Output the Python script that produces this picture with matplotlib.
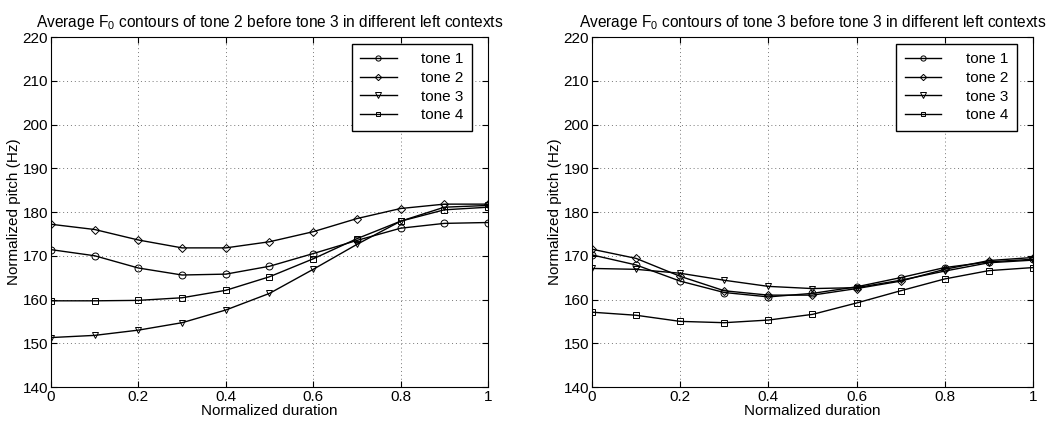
import numpy as np
import matplotlib
matplotlib.use("Agg")
import matplotlib.pyplot as plt

plt.rcParams['font.family'] = ['Liberation Sans', 'DejaVu Sans']
plt.rcParams['mathtext.default'] = 'regular'

# normalized duration
x = [0, 0.1, 0.2, 0.3, 0.4, 0.5, 0.6, 0.7, 0.8, 0.9, 1.0]

# tone 2 before tone 3 (left panel)
left_tone1 = [171.4, 170.0, 167.2, 165.6, 165.8, 167.6, 170.5, 173.5, 176.3, 177.4, 177.6]
left_tone2 = [177.2, 176.0, 173.6, 171.8, 171.8, 173.2, 175.5, 178.5, 180.8, 181.8, 181.8]
left_tone3 = [151.3, 151.8, 153.0, 154.7, 157.6, 161.4, 166.9, 172.6, 177.9, 181.1, 181.5]
left_tone4 = [159.7, 159.7, 159.8, 160.4, 162.1, 165.2, 169.3, 173.9, 177.9, 180.5, 181.1]

# tone 3 before tone 3 (right panel)
right_tone1 = [170.2, 167.9, 164.2, 161.6, 160.6, 161.4, 162.9, 165.0, 167.3, 168.6, 169.2]
right_tone2 = [171.5, 169.4, 165.3, 162.0, 161.0, 161.0, 162.5, 164.2, 166.9, 168.9, 169.6]
right_tone3 = [167.1, 166.9, 166.0, 164.4, 163.0, 162.5, 162.7, 164.4, 166.5, 168.4, 169.0]
right_tone4 = [157.1, 156.4, 155.0, 154.7, 155.3, 156.6, 159.2, 162.0, 164.7, 166.6, 167.3]

labels = ['tone 1', 'tone 2', 'tone 3', 'tone 4']
markers = ['o', 'D', 'v', 's']
msizes = [5, 4.3, 5, 4.3]
titles = ['Average F$_0$ contours of tone 2 before tone 3 in different left contexts',
          'Average F$_0$ contours of tone 3 before tone 3 in different left contexts']

fig = plt.figure(figsize=(10.55, 4.23), dpi=100)
ax1 = fig.add_axes([0.0483, 0.0851, 0.4143, 0.8274])
ax2 = fig.add_axes([0.5611, 0.0851, 0.4180, 0.8274])

panels = [(ax1, [left_tone1, left_tone2, left_tone3, left_tone4]),
          (ax2, [right_tone1, right_tone2, right_tone3, right_tone4])]

for i, (ax, series) in enumerate(panels):
    for y, m, ms, lab in zip(series, markers, msizes, labels):
        ax.plot(x, y, color='black', linewidth=1.0, marker=m, markersize=ms,
                markerfacecolor='none', markeredgewidth=0.7, label=lab)
    ax.set_xlim(0, 1)
    ax.set_ylim(140, 220)
    ax.set_xticks([0, 0.2, 0.4, 0.6, 0.8, 1])
    ax.set_xticklabels(['0', '0.2', '0.4', '0.6', '0.8', '1'])
    ax.set_yticks(np.arange(140, 221, 10))
    ax.grid(True, linestyle=(0, (1, 3)), color='#777777', linewidth=0.7)
    ax.tick_params(direction='in', top=True, right=True, labelsize=11, length=4, pad=2)
    for s in ax.spines.values():
        s.set_linewidth(0.8)
    ax.set_xlabel('Normalized duration', fontsize=11, labelpad=0)
    ax.set_ylabel('Normalized pitch (Hz)', fontsize=11, labelpad=1)
    ax.set_title(titles[i], fontsize=11.2, pad=7)
    leg = ax.legend(loc='upper right', bbox_to_anchor=(0.963, 0.98), fontsize=11,
                    handlelength=2.4, handletextpad=1.6, markerscale=0.75,
                    fancybox=False, framealpha=1, edgecolor='black',
                    borderpad=0.55, labelspacing=0.3, borderaxespad=0)
    leg.get_frame().set_linewidth(1.0)

fig.savefig('out.png', dpi=100)
